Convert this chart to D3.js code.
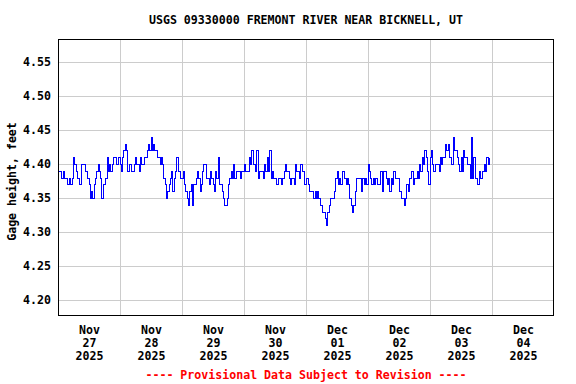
<!DOCTYPE html>
<html>
<head>
<meta charset="utf-8">
<script src="https://cdn.jsdelivr.net/npm/d3@7"></script>
<style>
  html, body { margin: 0; padding: 0; background: #fff; }
  svg { display: block; }
  text { font-family: "DejaVu Sans Mono", "Liberation Mono", monospace; font-weight: bold; }
</style>
</head>
<body>
<div id="chart"></div>
<script>
// ---- Data (gage height, feet; 30-minute readings starting Nov 27 2025 00:00) ----
const title = "USGS 09330000 FREMONT RIVER NEAR BICKNELL, UT";
const yLabel = "Gage height, feet";
const footer = "---- Provisional Data Subject to Revision ----";
const yTicks = [4.20, 4.25, 4.30, 4.35, 4.40, 4.45, 4.50, 4.55];
const dayLabels = [
  ["Nov", "27", "2025"], ["Nov", "28", "2025"], ["Nov", "29", "2025"], ["Nov", "30", "2025"],
  ["Dec", "01", "2025"], ["Dec", "02", "2025"], ["Dec", "03", "2025"], ["Dec", "04", "2025"]
];
const nov27 = [4.39,4.39, 4.39,4.38, 4.39,4.38, 4.38,4.37, 4.37,4.38, 4.37,4.38, 4.41,4.40, 4.39,4.38,
               4.38,4.37, 4.40,4.40, 4.40,4.39, 4.39,4.38, 4.37,4.35, 4.36,4.35, 4.37,4.38, 4.39,4.40,
               4.39,4.38, 4.35,4.37, 4.37,4.38, 4.41,4.39, 4.40,4.39, 4.40,4.41, 4.41,4.40, 4.40,4.41];
const nov28 = [4.40,4.39, 4.41,4.42, 4.43,4.42, 4.39,4.40, 4.40,4.39, 4.39,4.40, 4.41,4.40, 4.40,4.39,
               4.41,4.40, 4.40,4.41, 4.41,4.42, 4.43,4.42, 4.44,4.42, 4.43,4.42, 4.42,4.41, 4.41,4.40,
               4.41,4.40, 4.38,4.37, 4.35,4.36, 4.37,4.38, 4.39,4.36, 4.38,4.39, 4.41,4.39, 4.39,4.38];
const nov29 = [4.38,4.39, 4.37,4.36, 4.35,4.34, 4.36,4.37, 4.34,4.37, 4.37,4.38, 4.39,4.38, 4.36,4.37,
               4.39,4.40, 4.40,4.38, 4.38,4.37, 4.39,4.38, 4.37,4.36, 4.39,4.38, 4.41,4.37, 4.37,4.36,
               4.35,4.34, 4.34,4.35, 4.37,4.38, 4.39,4.38, 4.40,4.38, 4.39,4.39, 4.39,4.38, 4.39,4.39];
const nov30 = [4.40,4.39, 4.39,4.39, 4.41,4.40, 4.42,4.40, 4.40,4.39, 4.42,4.38, 4.39,4.39, 4.39,4.38,
               4.40,4.39, 4.41,4.39, 4.42,4.38, 4.39,4.38, 4.38,4.37, 4.37,4.38, 4.38,4.37, 4.38,4.39,
               4.40,4.39, 4.39,4.38, 4.37,4.38, 4.38,4.37, 4.40,4.39, 4.39,4.38, 4.40,4.39, 4.39,4.37];
const dec01 = [4.38,4.38, 4.37,4.36, 4.36,4.36, 4.35,4.36, 4.35,4.36, 4.35,4.34, 4.34,4.33, 4.33,4.32,
               4.31,4.33, 4.34,4.35, 4.35,4.35, 4.36,4.38, 4.39,4.37, 4.38,4.37, 4.39,4.39, 4.38,4.37,
               4.38,4.37, 4.35,4.34, 4.33,4.34, 4.36,4.38, 4.38,4.38, 4.38,4.36, 4.38,4.37, 4.38,4.37];
const dec02 = [4.40,4.39, 4.38,4.37, 4.38,4.37, 4.38,4.37, 4.37,4.37, 4.39,4.36, 4.39,4.39, 4.38,4.37,
               4.38,4.36, 4.38,4.37, 4.39,4.38, 4.38,4.38, 4.36,4.36, 4.35,4.35, 4.34,4.35, 4.37,4.36,
               4.38,4.38, 4.39,4.37, 4.38,4.38, 4.39,4.38, 4.40,4.39, 4.41,4.40, 4.42,4.41, 4.39,4.37];
const dec03 = [4.41,4.42, 4.40,4.39, 4.40,4.40, 4.40,4.39, 4.41,4.40, 4.41,4.41, 4.43,4.42, 4.43,4.41,
               4.41,4.40, 4.44,4.42, 4.42,4.41, 4.40,4.39, 4.41,4.39, 4.42,4.41, 4.41,4.40, 4.40,4.38,
               4.44,4.38, 4.41,4.38, 4.38,4.37, 4.39,4.38, 4.38,4.39, 4.40,4.39, 4.41,4.40, 4.41];

// ---- Layout ----
const W = 576, H = 384;
const M = { left: 58, right: 554, top: 39, bottom: 316 };
const startMs = Date.UTC(2025, 10, 27);
const endMs = Date.UTC(2025, 11, 5);
const stepMs = 30 * 60 * 1000;

const values = [].concat(nov27, nov28, nov29, nov30, dec01, dec02, dec03);
const series = values.map((v, i) => ({ t: new Date(startMs + i * stepMs), v }));

const x = d3.scaleUtc().domain([new Date(startMs), new Date(endMs)]).range([M.left, M.right]);
const y = d3.scaleLinear().domain([4.1765, 4.5838]).range([M.bottom, M.top]);

const svg = d3.select("#chart").append("svg").attr("width", W).attr("height", H);

// grid
const days = d3.utcDay.range(new Date(startMs + 86400000), new Date(endMs));
svg.append("g").selectAll("line").data(days).join("line")
  .attr("x1", d => Math.round(x(d)) + 0.5).attr("x2", d => Math.round(x(d)) + 0.5)
  .attr("y1", M.top).attr("y2", M.bottom)
  .attr("stroke", "#cccccc").attr("stroke-width", 1);
svg.append("g").selectAll("line").data(yTicks).join("line")
  .attr("x1", M.left).attr("x2", M.right)
  .attr("y1", d => Math.round(y(d)) + 0.5).attr("y2", d => Math.round(y(d)) + 0.5)
  .attr("stroke", "#cccccc").attr("stroke-width", 1);

// data line
const line = d3.line().curve(d3.curveStepAfter).x(d => x(d.t)).y(d => Math.round(y(d.v)) + 0.5);
svg.append("path").datum(series)
  .attr("d", line).attr("fill", "none")
  .attr("stroke", "#0000ff").attr("stroke-width", 1)
  .attr("shape-rendering", "crispEdges");

// frame
svg.append("rect")
  .attr("x", M.left + 0.5).attr("y", M.top + 0.5)
  .attr("width", M.right - M.left - 1).attr("height", M.bottom - M.top - 1)
  .attr("fill", "none").attr("stroke", "#000").attr("stroke-width", 1);

// y axis labels
const yAxis = d3.axisLeft(y).tickValues(yTicks).tickFormat(d3.format(".2f")).tickSize(0).tickPadding(7);
const gy = svg.append("g").attr("transform", `translate(${M.left},0)`).call(yAxis);
gy.select(".domain").remove();
gy.selectAll("text").attr("font-size", "11.6px").attr("fill", "#000")
  .attr("font-family", "DejaVu Sans Mono, monospace").attr("font-weight", "bold");

// x axis labels (centered at noon of each day)
const noons = dayLabels.map((_, i) => new Date(startMs + i * 86400000 + 43200000));
const xAxis = d3.axisBottom(x).tickValues(noons).tickSize(0).tickFormat("");
const gx = svg.append("g").attr("transform", `translate(0,${M.bottom})`).call(xAxis);
gx.select(".domain").remove();
gx.selectAll(".tick").each(function(d, i) {
  const t = d3.select(this).select("text").text(null)
    .attr("font-size", "11.6px").attr("fill", "#000").attr("y", 0).attr("dy", null)
    .attr("font-family", "DejaVu Sans Mono, monospace").attr("font-weight", "bold");
  dayLabels[i].forEach((s, k) => {
    t.append("tspan").attr("x", 0).attr("y", 18 + k * 12.8).text(s);
  });
});

// title
svg.append("text").attr("x", (M.left + M.right) / 2).attr("y", 24)
  .attr("text-anchor", "middle").attr("font-size", "11.6px").attr("fill", "#000").text(title);

// y label
svg.append("text")
  .attr("transform", `translate(16,${(M.top + M.bottom) / 2 + 4}) rotate(-90)`)
  .attr("text-anchor", "middle").attr("font-size", "11.6px").attr("fill", "#000").text(yLabel);

// footer
svg.append("text").attr("x", (M.left + M.right) / 2).attr("y", 379)
  .attr("text-anchor", "middle").attr("font-size", "11.6px").attr("fill", "#ff0000").text(footer);
</script>
</body>
</html>
